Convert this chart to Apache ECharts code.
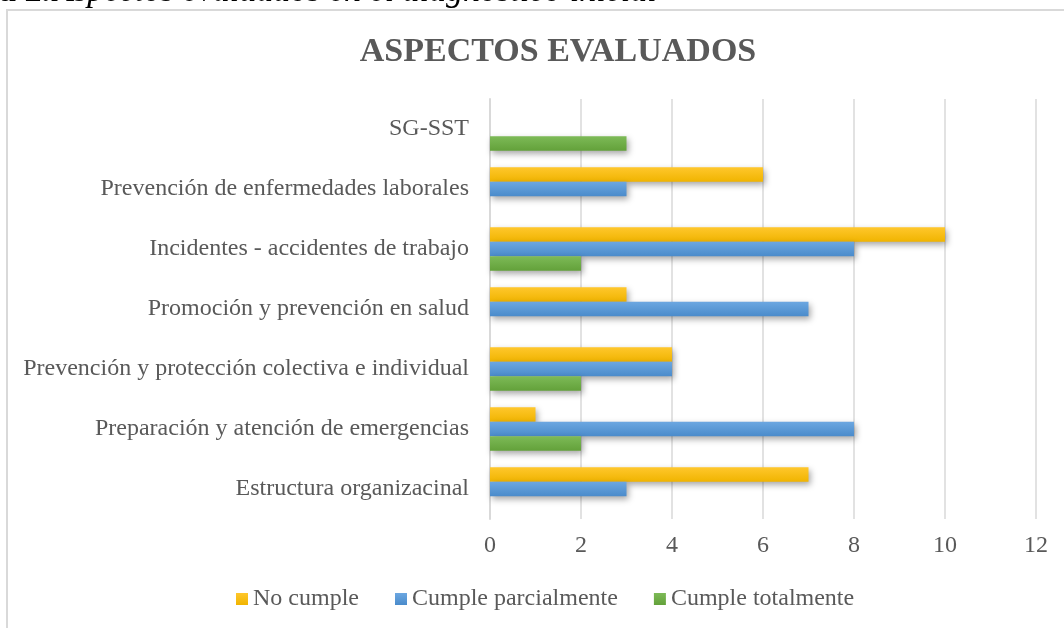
<!DOCTYPE html>
<html>
<head>
<meta charset="utf-8">
<script src="https://cdn.jsdelivr.net/npm/echarts@6/dist/echarts.min.js"></script>
<style>
  html, body { margin: 0; padding: 0; background: #fff; }
  #chart { width: 1064px; height: 628px; }
</style>
</head>
<body>
<div id="chart"></div>
<script>
// bottom to top, as on the category axis
const categories = [
  "Estructura organizacinal",
  "Preparación y atención de emergencias",
  "Prevención y protección colectiva e individual",
  "Promoción y prevención en salud",
  "Incidentes - accidentes de trabajo",
  "Prevención de enfermedades laborales",
  "SG-SST"
];
const noCumple = [7, 1, 4, 3, 10, 6, 0];
const cumpleParcial = [3, 8, 4, 7, 8, 3, 0];
const cumpleTotal = [0, 2, 2, 0, 2, 0, 3];

const serif = '"Liberation Serif", "DejaVu Serif", serif';
const textGray = "#595959";

function grad(top, bottom) {
  return new echarts.graphic.LinearGradient(0, 0, 0, 1, [
    { offset: 0, color: top },
    { offset: 1, color: bottom }
  ]);
}

function barSeries(name, data, top, bottom) {
  return {
    name: name,
    type: "bar",
    data: data,
    barWidth: 14.5,
    barGap: "0%",
    itemStyle: {
      color: grad(top, bottom),
      shadowColor: "rgba(0,0,0,0.35)",
      shadowBlur: 6,
      shadowOffsetX: 2,
      shadowOffsetY: 3
    }
  };
}

const chart = echarts.init(document.getElementById("chart"));
chart.setOption({
  animation: false,
  backgroundColor: "#fff",
  title: {
    text: "ASPECTOS EVALUADOS",
    left: 553,
    textAlign: "center",
    top: 30,
    textStyle: { fontFamily: serif, fontSize: 34, fontWeight: "bold", color: textGray }
  },
  graphic: [
    {
      type: "rect",
      shape: { x: 7, y: 10, width: 1100, height: 700 },
      style: { fill: "none", stroke: "#d9d9d9", lineWidth: 2 }
    },
    {
      type: "text",
      x: -66,
      y: 9,
      style: {
        text: "{b|Tabla 2.} {i|Aspectos evaluados en el diagnóstico inicial}",
        verticalAlign: "bottom",
        rich: {
          b: { fontFamily: serif, fontSize: 34, fontWeight: "bold", fill: "#000" },
          i: { fontFamily: serif, fontSize: 34, fontStyle: "italic", fill: "#000" }
        }
      }
    }
  ],
  legend: {
    bottom: 12,
    left: 231,
    itemWidth: 12,
    itemHeight: 12,
    itemGap: 36,
    icon: "rect",
    data: ["No cumple", "Cumple parcialmente", "Cumple totalmente"],
    textStyle: { fontFamily: serif, fontSize: 24, color: textGray }
  },
  grid: { left: 490, right: 28, top: 99, bottom: 109 },
  xAxis: {
    type: "value",
    min: 0,
    max: 12,
    interval: 2,
    axisLine: { show: false },
    axisTick: { show: false },
    splitLine: { lineStyle: { color: "#d9d9d9", width: 1.5 } },
    axisLabel: { fontFamily: serif, fontSize: 24, color: textGray, margin: 15 }
  },
  yAxis: {
    type: "category",
    data: categories,
    axisLine: { lineStyle: { color: "#d9d9d9", width: 2 } },
    axisTick: { show: false },
    axisLabel: { fontFamily: serif, fontSize: 24, color: textGray, margin: 21 }
  },
  series: [
    barSeries("No cumple", noCumple, "#FFC72C", "#F0B400"),
    barSeries("Cumple parcialmente", cumpleParcial, "#6CA7E1", "#4A8BCB"),
    barSeries("Cumple totalmente", cumpleTotal, "#7DBA57", "#63A13A")
  ]
});
</script>
</body>
</html>
